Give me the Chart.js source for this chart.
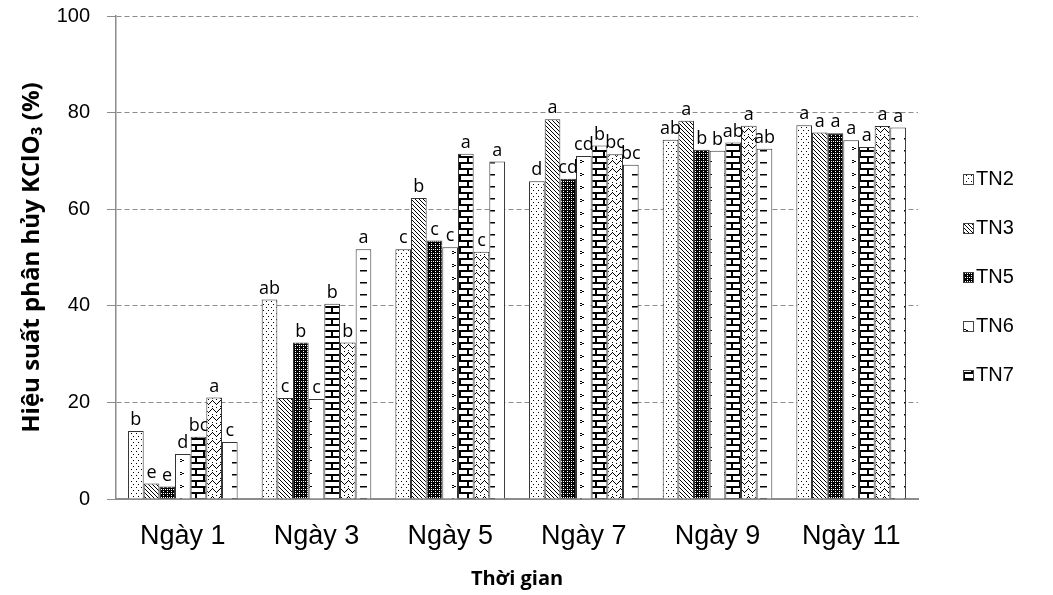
<!DOCTYPE html>
<html>
<head>
<meta charset="utf-8">
<script src="https://cdn.jsdelivr.net/npm/chart.js@4"></script>
<style>
  html, body { margin: 0; padding: 0; background: #fff; }
</style>
</head>
<body>
<canvas id="bar_chart" width="1053" height="595"></canvas>
<script>
'use strict';

// Data
const days = ['Ngày 1', 'Ngày 3', 'Ngày 5', 'Ngày 7', 'Ngày 9', 'Ngày 11'];
const seriesNames = ['TN2', 'TN3', 'TN5', 'TN6', 'TN7', 'TN8', 'TN9'];
const tn2 = [14.1, 41.3, 51.7, 65.8, 74.4, 77.4];
const tn3 = [3.2, 20.9, 62.3, 78.6, 78.3, 75.9];
const tn5 = [2.6, 32.4, 53.5, 66.3, 72.3, 75.7];
const tn6 = [9.3, 20.7, 52.1, 71.0, 72.1, 74.3];
const tn7 = [12.9, 40.4, 71.5, 73.2, 73.8, 72.9];
const tn8 = [21.0, 32.4, 51.2, 71.4, 77.3, 77.2];
const tn9 = [11.8, 51.7, 69.9, 69.2, 72.5, 76.9];
const letters = [
  ['b', 'ab', 'c', 'd', 'ab', 'a'],
  ['e', 'c', 'b', 'a', 'a', 'a'],
  ['e', 'b', 'c', 'cd', 'b', 'a'],
  ['d', 'c', 'c', 'cd', 'b', 'a'],
  ['bc', 'b', 'a', 'b', 'ab', 'a'],
  ['a', 'b', 'c', 'bc', 'a', 'a'],
  ['c', 'a', 'a', 'bc', 'ab', 'a']
];
const yTicks = [0, 20, 40, 60, 80, 100];
const legendCount = 5;

// Fill patterns (black and white, like the printed figure)
function makePattern(w, h, draw) {
  const c = document.createElement('canvas');
  c.width = w;
  c.height = h;
  const g = c.getContext('2d');
  g.fillStyle = '#fff';
  g.fillRect(0, 0, w, h);
  g.fillStyle = '#000';
  draw(g);
  return g.createPattern(c, 'repeat');
}

const patterns = [
  // dots
  makePattern(5, 6, g => { g.fillRect(1, 1, 1, 1); g.fillRect(3, 4, 1, 1); }),
  // diagonal lines
  makePattern(4, 4, g => { for (let i = 0; i < 4; i++) g.fillRect(i, i, 1, 1); }),
  // dense checker
  makePattern(4, 4, g => {
    g.fillRect(0, 0, 4, 4);
    g.fillStyle = '#fff';
    g.fillRect(1, 1, 1, 1);
    g.fillRect(3, 3, 1, 1);
    g.fillRect(3, 1, 1, 1);
  }),
  // small arrow marks
  makePattern(16, 13, g => {
    g.fillRect(4, 4, 2, 1);
    g.fillRect(6, 5, 2, 1);
    g.fillRect(4, 6, 2, 1);
  }),
  // bricks
  makePattern(16, 12, g => {
    g.fillRect(0, 0, 16, 2);
    g.fillRect(0, 6, 16, 2);
    g.fillRect(3, 0, 2, 6);
    g.fillRect(11, 6, 2, 6);
  }),
  // dotted zigzag
  makePattern(8, 8, g => {
    for (let i = 0; i < 4; i++) {
      g.fillRect(i, 4 - i, 1, 1);
      g.fillRect(4 + i, i, 1, 1);
    }
    g.fillRect(4, 6, 1, 1);
    g.fillRect(0, 7, 1, 1);
  }),
  // horizontal dashes
  makePattern(16, 12, g => { g.fillRect(8, 6, 7, 1.5); })
];

const allSeries = [tn2, tn3, tn5, tn6, tn7, tn8, tn9];

// Letters above bars
const letterPlugin = {
  id: 'letters',
  afterDatasetsDraw(chart) {
    const ctx = chart.ctx;
    ctx.save();
    ctx.font = '18px "Open Sans"';
    ctx.fillStyle = '#000';
    ctx.textAlign = 'center';
    ctx.textBaseline = 'bottom';
    chart.data.datasets.forEach((ds, i) => {
      chart.getDatasetMeta(i).data.forEach((bar, j) => {
        ctx.fillText(letters[i][j], bar.x, bar.y - 2);
      });
    });
    ctx.restore();
  }
};

// Legend on the right (only first five series appear in the figure)
const sideLegend = {
  id: 'sideLegend',
  afterDraw(chart) {
    const ctx = chart.ctx;
    ctx.save();
    ctx.font = '20px "Liberation Sans", Arial';
    ctx.textBaseline = 'middle';
    for (let i = 0; i < legendCount; i++) {
      const y = 179 + i * 49;
      ctx.fillStyle = chart.data.datasets[i].backgroundColor;
      ctx.fillRect(963, y - 5, 10, 10);
      ctx.strokeStyle = '#444';
      ctx.lineWidth = 1;
      ctx.strokeRect(963.5, y - 4.5, 10, 10);
      ctx.fillStyle = '#000';
      ctx.fillText(chart.data.datasets[i].label, 976, y);
    }
    ctx.restore();
  }
};

new Chart(document.querySelector('#bar_chart'), {
  type: 'bar',
  data: {
    labels: days,
    datasets: allSeries.map((vals, i) => ({
      label: seriesNames[i],
      data: vals,
      backgroundColor: patterns[i],
      borderColor: '#333',
      borderWidth: 1,
      categoryPercentage: 0.82,
      barPercentage: 1.0
    }))
  },
  options: {
    responsive: false,
    animation: false,
    layout: {
      padding: { top: 16, right: 135, left: 0, bottom: 0 }
    },
    plugins: {
      legend: { display: false },
      tooltip: { enabled: false }
    },
    scales: {
      x: {
        grid: { display: false, drawTicks: false },
        border: { color: '#8c8c8c', width: 2 },
        ticks: {
          color: '#000',
          font: { family: '"Liberation Sans", Arial', size: 27 },
          padding: 21
        },
        title: {
          display: true,
          text: 'Thời gian',
          color: '#000',
          font: { family: '"Open Sans"', size: 20, weight: 'bold' },
          padding: { top: 0, bottom: 4 }
        },
        afterFit(scale) { scale.height = 96; }
      },
      y: {
        min: 0,
        max: 100,
        afterBuildTicks(scale) { scale.ticks = yTicks.map(v => ({ value: v })); },
        grid: {
          color: '#8c8c8c',
          tickLength: 9,
          tickColor: '#8c8c8c',
          tickBorderDash: []
        },
        border: { color: '#8c8c8c', width: 1.5, dash: [5, 3] },
        ticks: {
          color: '#000',
          font: { family: '"Liberation Sans", Arial', size: 20 },
          padding: 17
        },
        title: {
          display: true,
          text: 'Hiệu suất phân hủy KClO₃ (%)',
          color: '#000',
          font: { family: '"Open Sans"', size: 24, weight: 'bold' },
          padding: { top: 18, bottom: 0 }
        },
        afterFit(scale) {
          scale.width = 116;
          scale.paddingTop = 0;
          scale.paddingBottom = 0;
        }
      }
    }
  },
  plugins: [letterPlugin, sideLegend]
});
</script>
</body>
</html>
